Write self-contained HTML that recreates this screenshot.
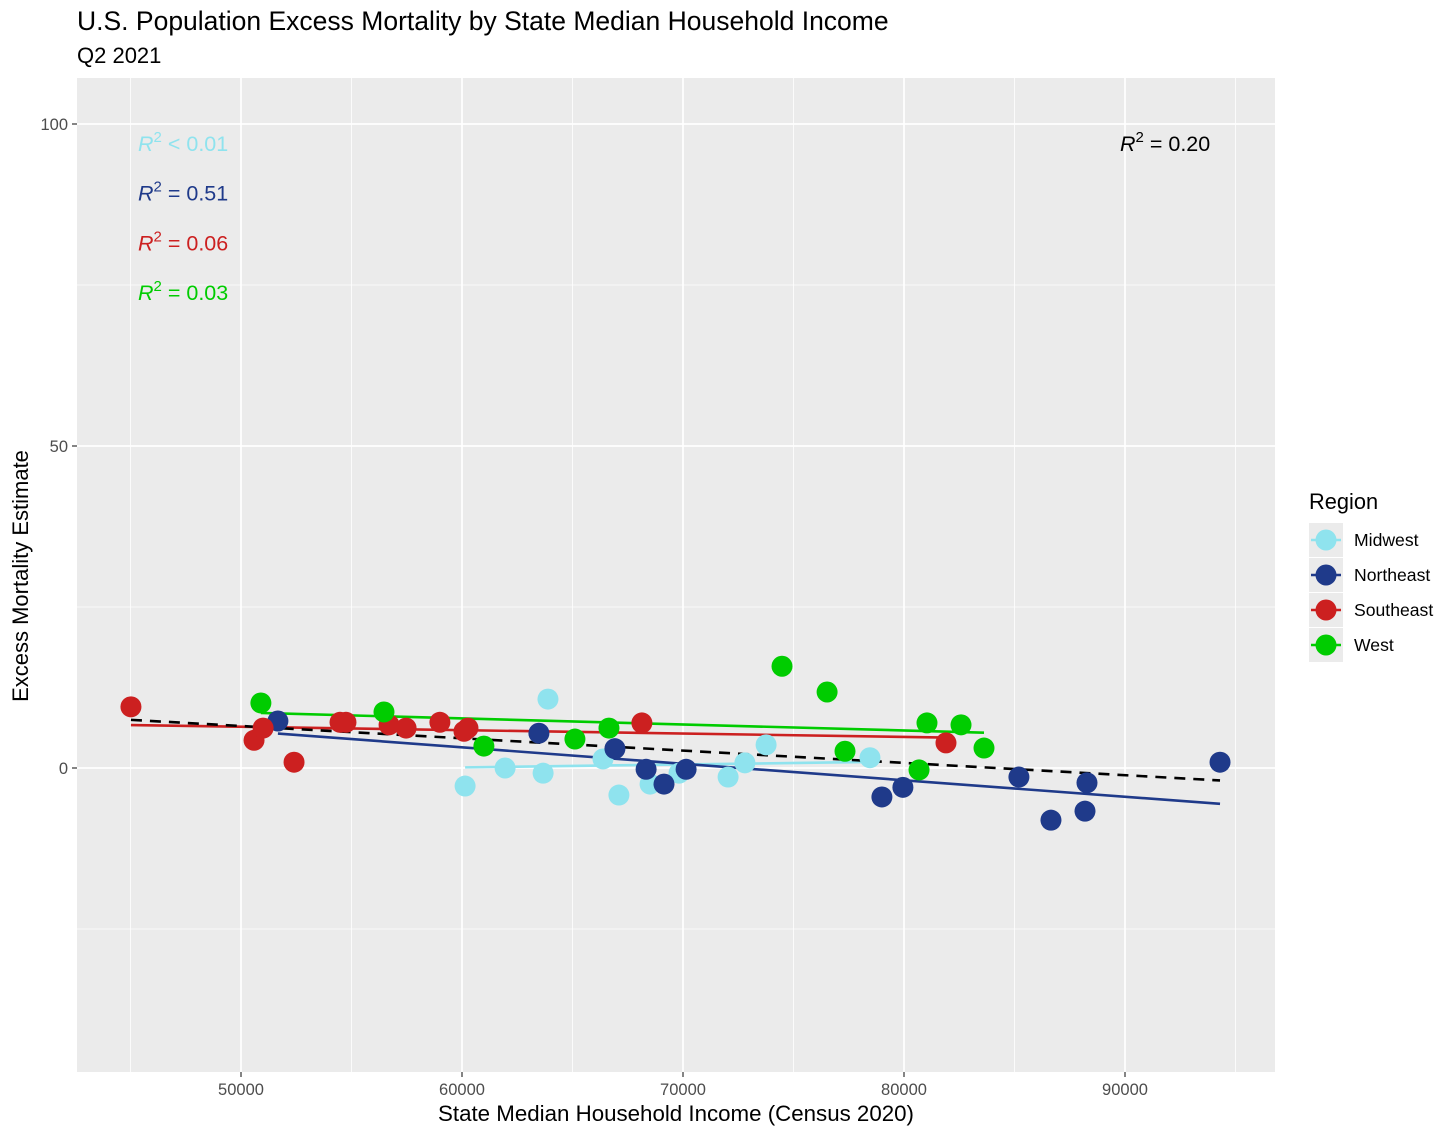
<!DOCTYPE html>
<html><head><meta charset="utf-8"><style>
body{margin:0;background:#fff;font-family:"Liberation Sans",Arial,sans-serif}
svg text{font-family:"Liberation Sans",Arial,sans-serif}
</style></head><body>
<svg id="chart" width="1456" height="1136" xmlns="http://www.w3.org/2000/svg">
<text x="77" y="30" font-size="26.5" fill="#000">U.S. Population Excess Mortality by State Median Household Income</text>
<text x="77" y="63" font-size="22" fill="#000">Q2 2021</text>
<rect x="77" y="78" width="1198" height="994" fill="#EBEBEB"/>
<g id="grid"></g>
<g id="lines"></g>
<g id="points"></g>
<g id="axes"></g>
<g id="r2"></g>
<text x="676" y="1121" font-size="22.3" text-anchor="middle">State Median Household Income (Census 2020)</text>
<text transform="translate(28,576) rotate(-90)" font-size="22" text-anchor="middle">Excess Mortality Estimate</text>
<g id="legend">
<text x="1309" y="509" font-size="21.8">Region</text>
</g>
</svg>
<script>
const regions = ["Midwest","Northeast","Southeast","West"];
const colors = ["#8FE3EE","#1F3A8A","#CC2020","#00CC00"];
const midwestX = [63890,60140,61950,63670,66380,67100,68510,69820,72040,72800,73760,78460];
const midwestY = [10.7,-2.8,0,-0.8,1.4,-4.2,-2.5,-0.8,-1.4,0.8,3.6,1.6];
const northeastX = [51670,63480,66920,68330,69140,70140,79000,79950,85200,86650,88190,88280,94300];
const northeastY = [7.3,5.4,3.0,-0.2,-2.5,-0.2,-4.5,-3.0,-1.4,-8.1,-6.7,-2.3,0.9];
const southeastX = [45020,50590,51000,52400,54480,54750,56700,57470,59000,60090,60270,68140,81900];
const southeastY = [9.5,4.3,6.2,0.9,7.1,7.1,6.7,6.2,7.1,5.7,6.2,7.0,3.9];
const westX = [50900,56470,60990,65110,66650,74480,76520,77330,80680,81040,82580,83620];
const westY = [10.1,8.7,3.4,4.5,6.2,15.8,11.8,2.6,-0.3,7.0,6.7,3.1];
const r2Labels = ["< 0.01","= 0.51","= 0.06","= 0.03"];
const r2Overall = "= 0.20";
const xTicks = [50000,60000,70000,80000,90000];
const xMinor = [45000,55000,65000,75000,85000,95000];
const yTicks = [0,50,100];
const yMinor = [-25,25,75];

const NS="http://www.w3.org/2000/svg";
const X0=77,X1=1275,Y0=78,Y1=1072;
const sx=v=>241+(v-50000)*0.0221;
const sy=v=>768-v*6.44;
function mk(tag,attrs,parent){const e=document.createElementNS(NS,tag);for(const k in attrs)e.setAttribute(k,attrs[k]);parent.appendChild(e);return e;}
const grid=document.getElementById('grid');
xMinor.forEach(v=>{const l=mk('line',{x1:sx(v),x2:sx(v),y1:Y0,y2:Y1,stroke:'#fff','stroke-width':0.8},grid);

});
yMinor.forEach(v=>{const l=mk('line',{x1:X0,x2:X1,y1:sy(v),y2:sy(v),stroke:'#fff','stroke-width':0.8},grid);

});
xTicks.forEach(v=>{const l=mk('line',{x1:sx(v),x2:sx(v),y1:Y0,y2:Y1,stroke:'#fff','stroke-width':1.7},grid);

});
yTicks.forEach(v=>{const l=mk('line',{x1:X0,x2:X1,y1:sy(v),y2:sy(v),stroke:'#fff','stroke-width':1.7},grid);

});
const axes=document.getElementById('axes');
xTicks.forEach(v=>{mk('line',{x1:sx(v),x2:sx(v),y1:Y1,y2:Y1+5,stroke:'#333','stroke-width':1.2},axes);
const t=mk('text',{x:sx(v),y:Y1+23,'font-size':16.5,'text-anchor':'middle',fill:'#4d4d4d'},axes);t.textContent=v;

});
yTicks.forEach(v=>{mk('line',{x1:X0-5,x2:X0,y1:sy(v),y2:sy(v),stroke:'#333','stroke-width':1.2},axes);
const t=mk('text',{x:X0-9,y:sy(v)+6,'font-size':16.5,'text-anchor':'end',fill:'#4d4d4d'},axes);t.textContent=v;

});

function fit(xs,ys){const n=xs.length;const mx=xs.reduce((a,b)=>a+b)/n,my=ys.reduce((a,b)=>a+b)/n;let sxy=0,sxx=0;for(let i=0;i<n;i++){sxy+=(xs[i]-mx)*(ys[i]-my);sxx+=(xs[i]-mx)**2;}const b=sxy/sxx;return {b,a:my-b*mx,min:Math.min(...xs),max:Math.max(...xs)};}
const XS=[midwestX,northeastX,southeastX,westX],YS=[midwestY,northeastY,southeastY,westY];
const lines=document.getElementById('lines'),pts=document.getElementById('points');
XS.forEach((xs,i)=>{const f=fit(xs,YS[i]);
const l=mk('line',{x1:sx(f.min),y1:sy(f.a+f.b*f.min),x2:sx(f.max),y2:sy(f.a+f.b*f.max),stroke:colors[i],'stroke-width':2.6},lines);

});
const allX=[].concat(...XS),allY=[].concat(...YS);const F=fit(allX,allY);
const dl=mk('line',{x1:sx(F.min),y1:sy(F.a+F.b*F.min),x2:sx(F.max),y2:sy(F.a+F.b*F.max),stroke:'#000','stroke-width':2.6,'stroke-dasharray':'11,8'},lines);


XS.forEach((xs,i)=>xs.forEach((x,j)=>{const c=mk('circle',{cx:sx(x),cy:sy(YS[i][j]),r:10.5,fill:colors[i]},pts);

}));

const r2=document.getElementById('r2');
r2Labels.forEach((s,i)=>{const t=mk('text',{x:138,y:151+i*49.7,'font-size':21.5,fill:colors[i]},r2);
t.innerHTML='<tspan font-style="italic">R</tspan><tspan dy="-9" font-size="15">2</tspan><tspan dy="9"> '+s+'</tspan>';

});
const to=mk('text',{x:1120,y:151,'font-size':21.5,fill:'#000'},r2);
to.innerHTML='<tspan font-style="italic">R</tspan><tspan dy="-9" font-size="15">2</tspan><tspan dy="9"> '+r2Overall+'</tspan>';



const lg=document.getElementById('legend');
regions.forEach((r,i)=>{const y=540+i*35;
const g=mk('g',{},lg);


mk('rect',{x:1309,y:y-17,width:34,height:34,fill:'#EBEBEB'},g);
mk('line',{x1:1311,x2:1341,y1:y,y2:y,stroke:colors[i],'stroke-width':2.6},g);
mk('circle',{cx:1326,cy:y,r:10.5,fill:colors[i]},g);
const t=mk('text',{x:1354,y:y+6,'font-size':17.6,fill:'#000'},g);t.textContent=r;});
</script>
</body></html>
